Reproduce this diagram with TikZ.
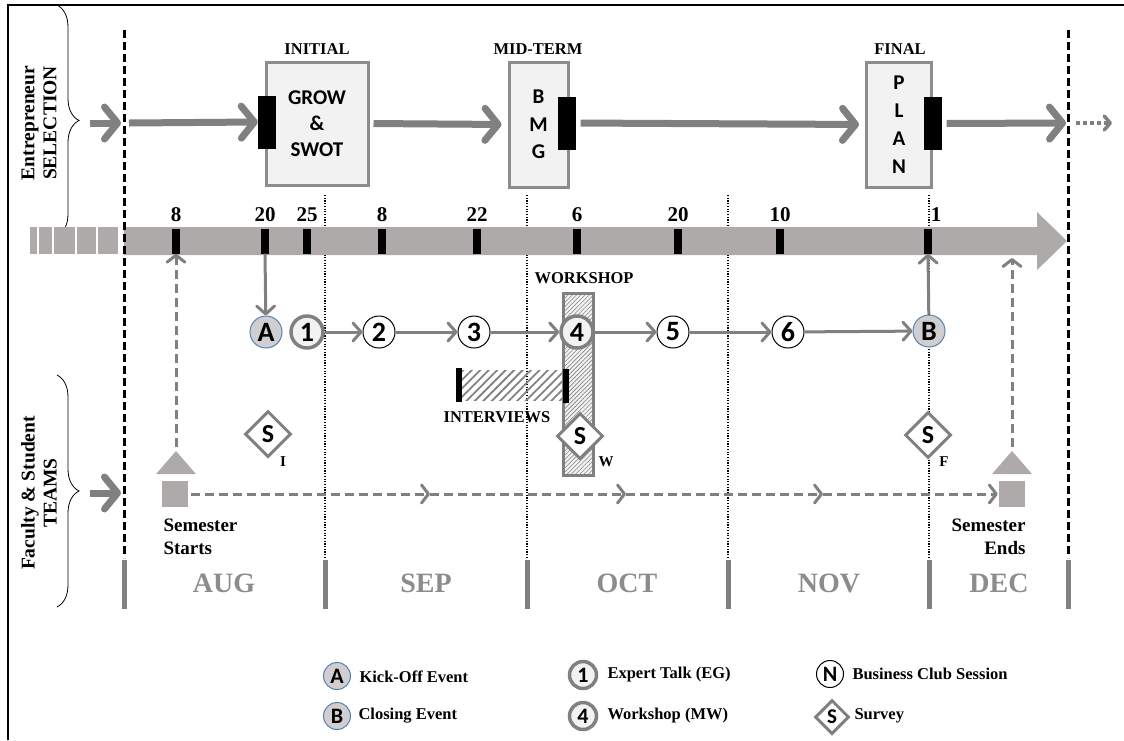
\documentclass[tikz,border=0pt]{standalone}
\usepackage{fontspec}
\setmainfont{Liberation Serif}
\newfontfamily\calib{Carlito}
\usetikzlibrary{arrows.meta,shapes.geometric,decorations.pathreplacing,patterns.meta}
\newcommand\myfs[1]{\fontsize{#1}{#1}\selectfont}
\definecolor{arrgray}{RGB}{128,128,128}
\definecolor{tlgray}{RGB}{174,170,170}
\definecolor{boxfill}{RGB}{242,242,242}
\definecolor{boxline}{RGB}{140,140,140}
\definecolor{mongray}{RGB}{140,140,140}
\definecolor{evfill}{RGB}{208,206,206}
\definecolor{evline}{RGB}{84,130,180}
\definecolor{hatchgray}{RGB}{130,130,130}
\tikzset{
  bigarrow/.style={draw=arrgray, line width=7pt, -{Straight Barb[round,length=13pt,width=32pt]}},
  thinarrow/.style={draw=arrgray, line width=3pt, -{Straight Barb[round,length=8pt,width=18pt]}},
  dasharrow/.style={draw=arrgray, line width=3pt, dash pattern=on 9pt off 5pt, -{Straight Barb[round,length=7pt,width=18pt]}},
  bline/.style={draw=black, line width=3pt, dash pattern=on 8pt off 4pt},
  mline/.style={draw=black, line width=1.2pt, dash pattern=on 1.2pt off 1.5pt},
  monbar/.style={draw=arrgray, line width=5pt},
  tick/.style={fill=black, minimum width=8pt, minimum height=25pt, inner sep=0pt},
  daylbl/.style={font=\bfseries\myfs{21}},
  stagebox/.style={draw=boxline, fill=boxfill, line width=3pt, align=center, inner sep=0pt},
  blackbar/.style={fill=black, minimum width=18pt, minimum height=53pt, inner sep=0pt},
  lbl/.style={font=\bfseries\myfs{16.5}},
  evc/.style={circle, draw=black, line width=1pt, fill=white, minimum size=32pt, inner sep=0pt, font=\calib\bfseries\myfs{28}},
  egc/.style={evc, draw=arrgray, line width=3.5pt, fill=boxfill},
  abc/.style={evc, draw=evline, line width=1pt, fill=evfill},
  survey/.style={diamond, aspect=1, draw=arrgray, line width=3pt, fill=white, minimum size=46pt, inner sep=0pt, font=\calib\bfseries\myfs{26}},
  semsq/.style={fill=tlgray, minimum size=26pt, inner sep=0pt},
  monlbl/.style={font=\bfseries\myfs{28}, text=mongray},
  side/.style={font=\bfseries\fontsize{19.5}{22}\selectfont, align=center, rotate=90},
  sublbl/.style={font=\bfseries\myfs{15}},
}
\begin{document}
\begin{tikzpicture}[x=1pt,y=-1pt]
\useasboundingbox (0,0) rectangle (1124,740);
% frame
\draw[line width=1.5pt] (8,740) -- (8,5) -- (1124,5);
% braces and side labels
\draw[decorate, decoration={brace, amplitude=22pt}, line width=0.8pt] (57,5) -- (57,236);
\draw[decorate, decoration={brace, amplitude=22pt}, line width=0.8pt] (57,375) -- (57,607);
\node[side] (selt) at (39,123) {Entrepreneur\\SELECTION};
\node[side] (teamt) at (39,493) {Faculty \& Student\\TEAMS};
% month dotted lines
\foreach \x in {325,527,728,929} \draw[mline] (\x,195) -- (\x,558);
% month bars
\foreach \x in {124,325,527,728,929,1068} \draw[monbar] (\x,560) -- (\x,609);
% month labels
\node[monlbl] (aug) at (224,583) {AUG};
\node[monlbl] (sep) at (426,583) {SEP};
\node[monlbl] (oct) at (627,583) {OCT};
\node[monlbl] (nov) at (829,583) {NOV};
\node[monlbl] (dec) at (999,583) {DEC};
% left blocks
\foreach \a/\b in {30/37,39/52,54/75,77/96,98/118} \fill[tlgray] (\a,227) rectangle (\b,254);
% timeline
\fill[tlgray] (124,227) -- (1037,227) -- (1037,212) -- (1067,241) -- (1037,270) -- (1037,255) -- (124,255) -- cycle;
% ticks and labels
\foreach \n/\x/\t in {t8/176/8, t20/265/20, t25/307/25, to8/382/8, t22/477/22, t6/577/6, to20/678/20, t10/780/10}{
  \node[tick] (\n) at (\x,241) {};
  \node[daylbl] at (\x,215) {\t};
}
\node[tick] (t1) at (928,241) {};
\node[daylbl] (l1) at (936,215) {1};
% boundary dashed lines
\draw[bline] (124,30) -- (124,558);
\draw[bline] (1068,30) -- (1068,558);
% top row
\coordinate (ta0) at (90,123);
\coordinate (ta1) at (121,123);
\coordinate (ta2) at (129,123);
\coordinate (tr1) at (1066,123);
\coordinate (td0) at (1076,123);
\coordinate (td1) at (1112,123);
\node[stagebox, minimum width=102pt, minimum height=123pt, font=\calib\bfseries\fontsize{21}{26}\selectfont] (grow) at (317,123.5) {GROW\\\&\\SWOT};
\node[stagebox, minimum width=59pt, minimum height=125pt, font=\calib\bfseries\fontsize{21}{27.5}\selectfont] (bmg) at (538.5,124.5) {B\\M\\G};
\node[stagebox, minimum width=65pt, minimum height=125pt, font=\calib\bfseries\fontsize{21}{28}\selectfont] (plan) at (899,124.5) {P\\L\\A\\N};
\node[blackbar] (bar1) at (267,122) {};
\node[blackbar] (bar2) at (566.5,123) {};
\node[blackbar] (bar3) at (932.5,123.5) {};
\node[lbl] (initl) at (317,49) {INITIAL};
\node[lbl] (midl) at (538,49) {MID-TERM};
\node[lbl] (finl) at (900,49) {FINAL};
\draw[bigarrow] (ta0) -- (ta1);
\draw[bigarrow] (ta2) -- (bar1.west);
\draw[bigarrow, shorten <=4pt, shorten >=6pt] (grow.east) -- (bmg.west);
\draw[bigarrow, shorten <=5pt, shorten >=6pt] (bar2.east) -- (plan.west);
\draw[bigarrow, shorten <=5pt] (bar3.east) -- (tr1);
\draw[draw=arrgray, line width=3.5pt, dash pattern=on 3.5pt off 3.5pt, -{Straight Barb[round,length=6pt,width=14pt]}] (td0) -- (td1);
% workshop
\node[draw=arrgray, line width=3pt, minimum width=30pt, minimum height=182pt, inner sep=0pt,
  preaction={fill=boxfill}, pattern={Lines[angle=45,distance=3pt,line width=0.6pt]}, pattern color=hatchgray] (ws) at (578,384) {};
\node[lbl] (wsl) at (584,278) {WORKSHOP};
% interviews
\node[inner sep=0pt, minimum width=105pt, minimum height=30pt,
  pattern={Lines[angle=45,distance=6pt,line width=1.8pt]}, pattern color=hatchgray] (iv) at (510.5,385) {};
\node[fill=black, minimum width=6pt, minimum height=34pt, inner sep=0pt] (ivl) at (459,384.5) {};
\node[fill=black, minimum width=6pt, minimum height=34pt, inner sep=0pt] (ivr) at (565.5,385.5) {};
\node[lbl] (ivt) at (497,417) {INTERVIEWS};
% event circles
\node[abc] (cA) at (266,332) {A};
\node[egc] (c1) at (307,332) {1};
\node[evc] (c2) at (379,332) {2};
\node[evc] (c3) at (474,332) {3};
\node[egc] (c4) at (577,332) {4};
\node[evc] (c5) at (673,332) {5};
\node[evc] (c6) at (788,332) {6};
\node[abc] (cB) at (929,331) {B};
\draw[thinarrow] (t20.south) -- (cA);
\draw[thinarrow] (c1) -- (c2);
\draw[thinarrow] (c2) -- (c3);
\draw[thinarrow] (c3) -- (c4);
\draw[thinarrow] (c4) -- (c5);
\draw[thinarrow] (c5) -- (c6);
\draw[thinarrow] (c6) -- (cB);
\draw[thinarrow] (cB) -- (t1.south);
% surveys
\node[survey] (sI) at (268,434) {S};
\node[survey] (sW) at (580,436) {S};
\node[survey] (sF) at (928,435) {S};
\node[sublbl] (subI) at (283,462) {I};
\node[sublbl] (subW) at (606,462) {W};
\node[sublbl] (subF) at (944,462) {F};
% bottom row
\coordinate (ba0) at (90,493);
\coordinate (ba1) at (121,493);
\draw[bigarrow] (ba0) -- (ba1);
\node[semsq] (sq1) at (175,494) {};
\node[semsq] (sq2) at (1012,494) {};
\fill[tlgray] (156,474) -- (196,474) -- (176,451) -- cycle;
\fill[tlgray] (992,474) -- (1032,474) -- (1012,451) -- cycle;
\coordinate (ap1) at (176,447);
\coordinate (ap2) at (1012,447);
\coordinate (tlend) at (1012,258);
\draw[dasharrow] (ap1) -- (t8.south);
\draw[dasharrow] (ap2) -- (tlend);
\coordinate (m1) at (430,494);
\coordinate (m2) at (626,494);
\coordinate (m3) at (823,494);
\draw[dasharrow, shorten <=3pt] (sq1.east) -- (m1);
\draw[dasharrow] (m1) -- (m2);
\draw[dasharrow] (m2) -- (m3);
\draw[dasharrow, shorten >=1pt] (m3) -- (sq2.west);
\node[anchor=west, align=left, font=\bfseries\fontsize{19}{23}\selectfont] (sst) at (160,537) {Semester\\Starts};
\node[anchor=east, align=right, font=\bfseries\fontsize{19}{23}\selectfont] (sen) at (1029,537) {Semester\\Ends};
% legend
\node[abc, minimum size=27pt, font=\calib\bfseries\myfs{22}] (lA) at (337,676) {A};
\node[abc, minimum size=27pt, font=\calib\bfseries\myfs{22}] (lB) at (337,716) {B};
\node[egc, minimum size=27pt, font=\calib\bfseries\myfs{22}] (l1c) at (583,675) {1};
\node[egc, minimum size=27pt, font=\calib\bfseries\myfs{22}] (l4c) at (583,716) {4};
\node[evc, minimum size=27pt, font=\calib\bfseries\myfs{22}] (lN) at (830,674) {N};
\node[survey, minimum size=34pt, font=\calib\bfseries\myfs{21}] (lS) at (832,717) {S};
\node[lbl, anchor=west] (lAt) at (356,677) {Kick-Off Event};
\node[lbl, anchor=west] (lBt) at (355,716) {Closing Event};
\node[lbl, anchor=west] (l1t) at (604,675) {Expert Talk (EG)};
\node[lbl, anchor=west] (l4t) at (604,716) {Workshop (MW)};
\node[lbl, anchor=west] (lNt) at (849,674) {Business Club Session};
\node[lbl, anchor=west] (lSt) at (851,716) {Survey};
\end{tikzpicture}
\end{document}
